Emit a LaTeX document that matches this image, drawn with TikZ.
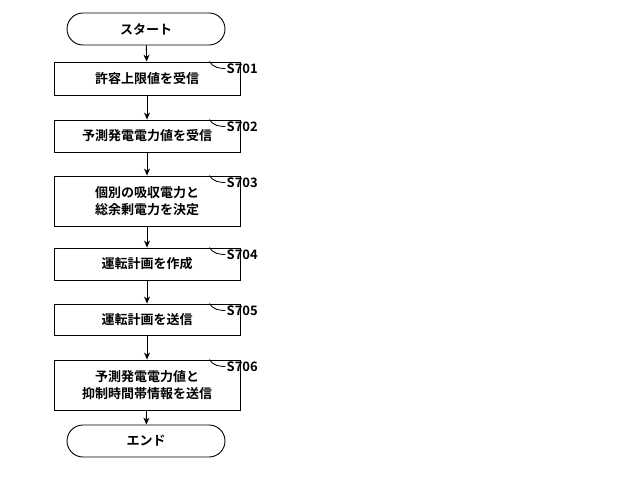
\documentclass[tikz,border=0pt]{standalone}
\usepackage{fontspec}
\setmainfont{Noto Sans CJK JP}[BoldFont={Noto Sans CJK JP Bold}]
\usetikzlibrary{arrows.meta}
\begin{document}
\begin{tikzpicture}[x=1pt,y=-1pt,
  stepbox/.style={draw,line width=0.9pt,minimum width=186pt,align=center,font=\fontsize{13}{17}\selectfont\bfseries,inner sep=0pt},
  term/.style={draw,line width=0.9pt,rounded corners=16pt,minimum width=158pt,minimum height=32pt,font=\fontsize{13}{17}\selectfont\bfseries},
  arr/.style={-{Stealth[length=7pt,width=6pt]},line width=0.9pt},
  lab/.style={font=\fontsize{13}{14}\selectfont\bfseries,anchor=west,inner sep=0pt}]
\useasboundingbox (0,0) rectangle (640,478);
\node[term] (st) at (146,29) {スタート};
\node[stepbox,minimum height=33pt] (a) at (147,78.5) {許容上限値を受信};
\node[stepbox,minimum height=32pt] (b) at (147,136) {予測発電電力値を受信};
\node[stepbox,minimum height=50pt] (c) at (147,201) {個別の吸収電力と\\総余剰電力を決定};
\node[stepbox,minimum height=32pt] (d) at (147,264) {運転計画を作成};
\node[stepbox,minimum height=31pt] (e) at (147,319.5) {運転計画を送信};
\node[stepbox,minimum height=50pt] (f) at (147,385) {予測発電電力値と\\抑制時間帯情報を送信};
\node[term] (en) at (146,441) {エンド};
\draw[arr] (st) -- (a);
\draw[arr] (a) -- (b);
\draw[arr] (b) -- (c);
\draw[arr] (c) -- (d);
\draw[arr] (d) -- (e);
\draw[arr] (e) -- (f);
\draw[arr] (f) -- (en);
\foreach \n/\t in {a/S701,b/S702,c/S703,d/S704,e/S705,f/S706}{
  \node[lab] (l\n) at ([xshift=-14pt,yshift=-7pt]\n.north east) {\t};
  \coordinate (k\n) at ([xshift=-17pt,yshift=7pt]l\n.west);
  \draw[line width=0.8pt] (k\n) .. controls ([xshift=3pt,yshift=-6pt]k\n) and ([xshift=-6pt]l\n.west) .. ([xshift=-1pt]l\n.west);
}
\end{tikzpicture}
\end{document}
